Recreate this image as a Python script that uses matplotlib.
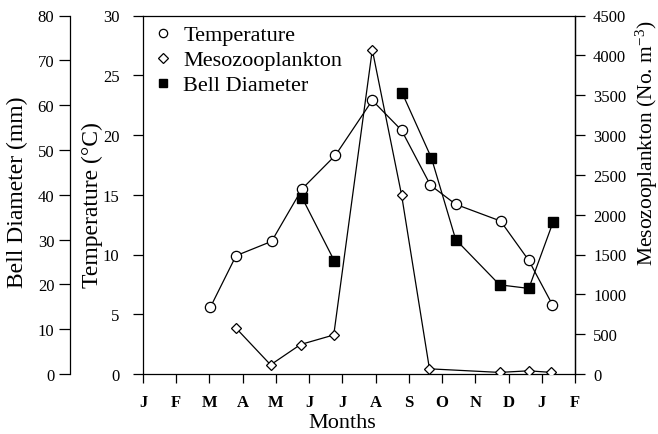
import matplotlib
matplotlib.use("Agg")
from matplotlib import pyplot as plt
from matplotlib.lines import Line2D

plt.rcParams["font.family"] = ["Liberation Serif", "DejaVu Serif"]
plt.rcParams["mathtext.fontset"] = "custom"
plt.rcParams["mathtext.rm"] = "Liberation Serif"
plt.rcParams["mathtext.default"] = "regular"

# months measured from 1 January (0 = J, 13 = F of following year)
month_labels = ["J", "F", "M", "A", "M", "J", "J", "A", "S", "O", "N", "D", "J", "F"]

temp_months = [2.03, 2.80, 3.87, 4.79, 5.79, 6.90, 7.78, 8.65, 9.41, 10.76, 11.61, 12.32]
temp_values = [5.6, 9.9, 11.1, 15.5, 18.3, 22.9, 20.4, 15.8, 14.2, 12.8, 9.5, 5.8]

meso_months = [2.79, 3.84, 4.74, 5.74, 6.90, 7.78, 8.62, 10.73, 11.61, 12.29]
meso_values = [580, 115, 370, 490, 4070, 2250, 65, 20, 40, 20]

# bell diameter was sampled in two separate periods (no line across the gap)
bell_months_1 = [4.79, 5.76]
bell_values_1 = [39.3, 25.2]
bell_months_2 = [7.80, 8.68, 9.41, 10.73, 11.61, 12.34]
bell_values_2 = [62.7, 48.2, 30.0, 19.9, 19.1, 33.9]

fig = plt.figure(figsize=(6.58, 4.35), dpi=100)
ax = fig.add_axes([143 / 658, 1 - 375 / 435, 432 / 658, 358.5 / 435])
ax_bell = ax.twinx()
ax_meso = ax.twinx()

line_kw = dict(color="black", linewidth=0.9)

ax_meso.plot(meso_months, meso_values, marker="D", markersize=5.6, markerfacecolor="white",
             markeredgecolor="black", markeredgewidth=0.9, zorder=3, **line_kw)
ax.plot(temp_months, temp_values, marker="o", markersize=7.4, markerfacecolor="white",
        markeredgecolor="black", markeredgewidth=0.9, zorder=3, **line_kw)
for bm, bv in [(bell_months_1, bell_values_1), (bell_months_2, bell_values_2)]:
    ax_bell.plot(bm, bv, marker="s", markersize=7.0, markerfacecolor="black",
                 markeredgecolor="black", zorder=4, **line_kw)

# temperature (main axis)
ax.set_xlim(0, 13)
ax.set_ylim(0, 30)
ax.set_xticks(range(len(month_labels)))
ax.set_xticklabels(month_labels, fontsize=12, fontweight="bold")
ax.set_yticks(range(0, 31, 5))
ax.tick_params(axis="x", direction="out", length=6.5, width=0.9, pad=8)
ax.tick_params(axis="y", direction="out", length=7, width=0.9, pad=10, labelsize=12)
ax.set_xlabel("Months", fontsize=16)
ax.xaxis.set_label_coords(0.461, -0.11)
ax.set_ylabel("Temperature (°C)", fontsize=17)
ax.yaxis.set_label_coords(-0.093, 0.474)
for s in ax.spines.values():
    s.set_linewidth(0.9)

# bell diameter axis, offset to the left
ax_bell.set_ylim(0, 80)
ax_bell.set_yticks(range(0, 81, 10))
ax_bell.spines["left"].set_visible(True)
ax_bell.spines["left"].set_position(("axes", -0.17))
ax_bell.spines["left"].set_linewidth(0.9)
for side in ["right", "top", "bottom"]:
    ax_bell.spines[side].set_visible(False)
ax_bell.yaxis.set_ticks_position("left")
ax_bell.yaxis.set_label_position("left")
ax_bell.tick_params(axis="y", direction="out", length=8, width=0.9, pad=3, labelsize=12)
ax_bell.set_ylabel("Bell Diameter (mm)", fontsize=17)
ax_bell.yaxis.set_label_coords(-0.266, 0.511)

# mesozooplankton axis on the right
ax_meso.set_ylim(0, 4500)
ax_meso.set_yticks(range(0, 4501, 500))
for side in ["left", "top", "bottom"]:
    ax_meso.spines[side].set_visible(False)
ax_meso.spines["right"].set_linewidth(0.9)
ax_meso.tick_params(axis="y", direction="out", length=7, width=0.9, pad=6, labelsize=12)
ax_meso.set_ylabel("Mesozooplankton (No. m$^{-3}$)", fontsize=15.5)
ax_meso.yaxis.set_label_coords(1.135, 0.645)

handles = [
    Line2D([], [], linestyle="none", marker="o", markersize=6, markerfacecolor="white",
           markeredgecolor="black", markeredgewidth=0.9),
    Line2D([], [], linestyle="none", marker="D", markersize=5, markerfacecolor="white",
           markeredgecolor="black", markeredgewidth=0.9),
    Line2D([], [], linestyle="none", marker="s", markersize=6, markerfacecolor="black",
           markeredgecolor="black"),
]
ax.legend(handles, ["Temperature", "Mesozooplankton", "Bell Diameter"], loc="upper left",
          bbox_to_anchor=(0.021, 0.974), frameon=False, fontsize=16, handlelength=1.0,
          handletextpad=0.4, labelspacing=0.2, borderaxespad=0, borderpad=0)

fig.savefig("out.png", dpi=100)
